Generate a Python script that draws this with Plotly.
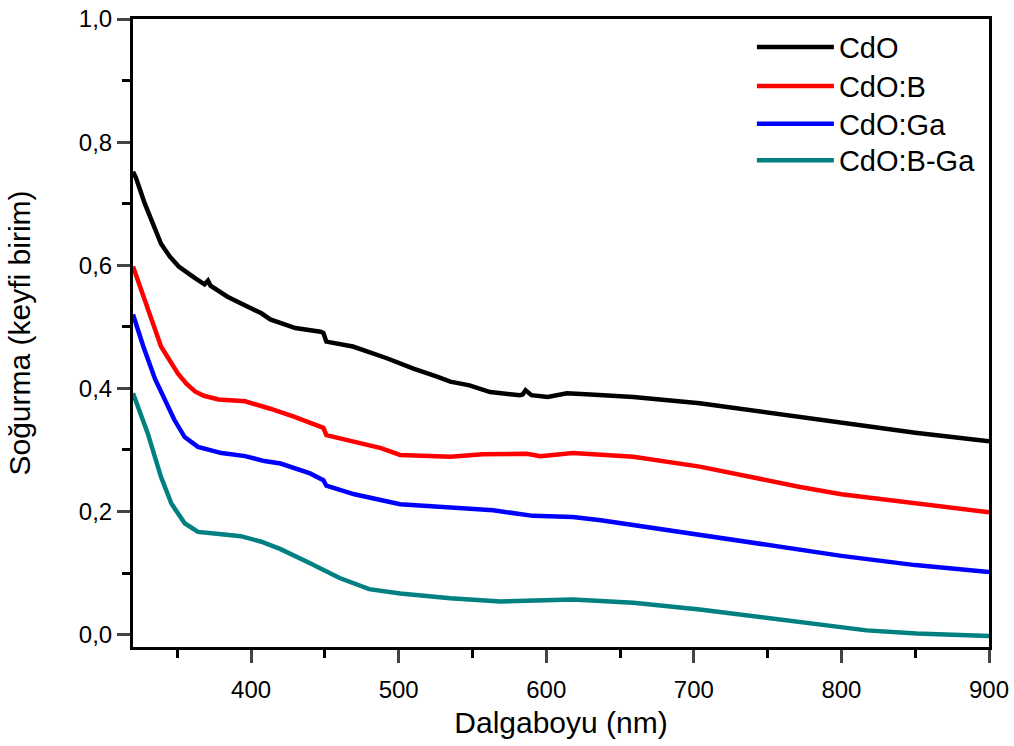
import plotly.graph_objects as go

# ---- data ----
cdo_x = [320, 322, 328, 335, 339, 345, 351, 362, 368.5, 370.8, 372.5, 384, 407, 413, 430, 447, 449, 451, 469, 492, 510, 526, 535, 548, 562, 582, 584, 586, 590, 601, 614, 630, 659, 704, 738, 772, 800, 850, 900]
cdo_y = [0.752, 0.742, 0.700, 0.657, 0.635, 0.614, 0.598, 0.579, 0.569, 0.575, 0.567, 0.549, 0.522, 0.512, 0.498, 0.492, 0.490, 0.476, 0.468, 0.449, 0.432, 0.419, 0.411, 0.405, 0.394, 0.389, 0.390, 0.397, 0.389, 0.386, 0.392, 0.390, 0.386, 0.376, 0.365, 0.354, 0.345, 0.328, 0.314]

cdob_x = [320, 328, 339, 345, 350.5, 356, 362, 368, 378, 396, 407, 413, 429, 447, 449, 451, 469, 488, 501, 520, 535, 557, 587, 596, 618, 640, 659, 704, 738, 772, 800, 850, 900]
cdob_y = [0.598, 0.543, 0.468, 0.445, 0.424, 0.408, 0.395, 0.388, 0.382, 0.379, 0.372, 0.367, 0.354, 0.338, 0.336, 0.324, 0.313, 0.303, 0.292, 0.290, 0.289, 0.293, 0.294, 0.290, 0.295, 0.292, 0.289, 0.273, 0.256, 0.240, 0.228, 0.214, 0.199]

cdoga_x = [320, 327, 335, 341.5, 348, 355, 364, 380, 396, 409, 420, 440, 449, 451, 470, 501, 535, 564, 591, 618, 637, 659, 693, 727, 772, 800, 850, 900]
cdoga_y = [0.520, 0.468, 0.415, 0.381, 0.349, 0.321, 0.305, 0.295, 0.290, 0.282, 0.278, 0.262, 0.251, 0.242, 0.228, 0.212, 0.207, 0.202, 0.193, 0.191, 0.186, 0.178, 0.167, 0.154, 0.137, 0.128, 0.113, 0.102]

cdobga_x = [320, 330, 339, 346, 355, 364, 380, 393, 407, 420, 440, 460, 480, 501, 535, 569, 618, 659, 704, 738, 772, 795, 817, 851, 900]
cdobga_y = [0.392, 0.327, 0.256, 0.213, 0.181, 0.167, 0.163, 0.160, 0.151, 0.139, 0.116, 0.092, 0.074, 0.067, 0.059, 0.054, 0.057, 0.052, 0.041, 0.031, 0.021, 0.015, 0.007, 0.002, -0.002]

series_names = ["CdO", "CdO:B", "CdO:Ga", "CdO:B-Ga"]
series_colors = ["#000000", "#ff0000", "#0000ff", "#008080"]

x_ticks = [400, 500, 600, 700, 800, 900]
y_ticks = [0.0, 0.2, 0.4, 0.6, 0.8, 1.0]

xs = [cdo_x, cdob_x, cdoga_x, cdobga_x]
ys = [cdo_y, cdob_y, cdoga_y, cdobga_y]

font_family = "Liberation Sans, Arial, sans-serif"
legend_ids = ["legend", "legend2", "legend3", "legend4"]
legend_centers = [0.955, 0.893, 0.833, 0.775]  # vertical centres of legend rows (paper)

fig = go.Figure()
for name, col, x, y, lid in zip(series_names, series_colors, xs, ys, legend_ids):
    fig.add_trace(go.Scatter(x=x, y=y, mode="lines", name=name, legend=lid,
                             line=dict(color=col, width=4.5)))

legend_style = dict(x=0.723, xanchor="left", yanchor="middle", bgcolor="rgba(0,0,0,0)",
                    font=dict(size=29, family=font_family), itemwidth=77)
legends = {lid: dict(legend_style, y=yc) for lid, yc in zip(legend_ids, legend_centers)}

fig.update_layout(
    width=1014, height=746,
    paper_bgcolor="white", plot_bgcolor="white",
    margin=dict(l=133, r=25, t=19, b=99, autoexpand=False),
    separators=",.",
    font=dict(family=font_family, color="black", size=24),
    showlegend=True,
    **legends,
)
fig.update_xaxes(
    range=[320, 900], tickvals=x_ticks, ticks="outside", ticklen=13, tickwidth=3,
    showline=True, linewidth=3, linecolor="black", mirror=True, showgrid=False, zeroline=False,
    automargin=False, ticklabeloverflow="allow", ticklabelstandoff=6,
    tickfont=dict(size=24), title=dict(text="Dalgaboyu (nm)", font=dict(size=30), standoff=11),
    minor=dict(dtick=50, ticks="outside", ticklen=8, tickwidth=3, tickcolor="black", showgrid=False),
)
fig.update_yaxes(
    range=[-0.02, 1.0], tickvals=y_ticks, tickformat=".1f", ticks="outside", ticklen=13, tickwidth=3,
    showline=True, linewidth=3, linecolor="black", mirror=True, showgrid=False, zeroline=False,
    automargin=False, ticklabeloverflow="allow",
    tickfont=dict(size=24), title=dict(text="Soğurma (keyfi birim)", font=dict(size=30), standoff=40),
    minor=dict(dtick=0.1, ticks="outside", ticklen=8, tickwidth=3, tickcolor="black", showgrid=False),
)

fig.write_html("out.html", config={"displayModeBar": False},
               post_script="document.body.style.margin='0px';")
